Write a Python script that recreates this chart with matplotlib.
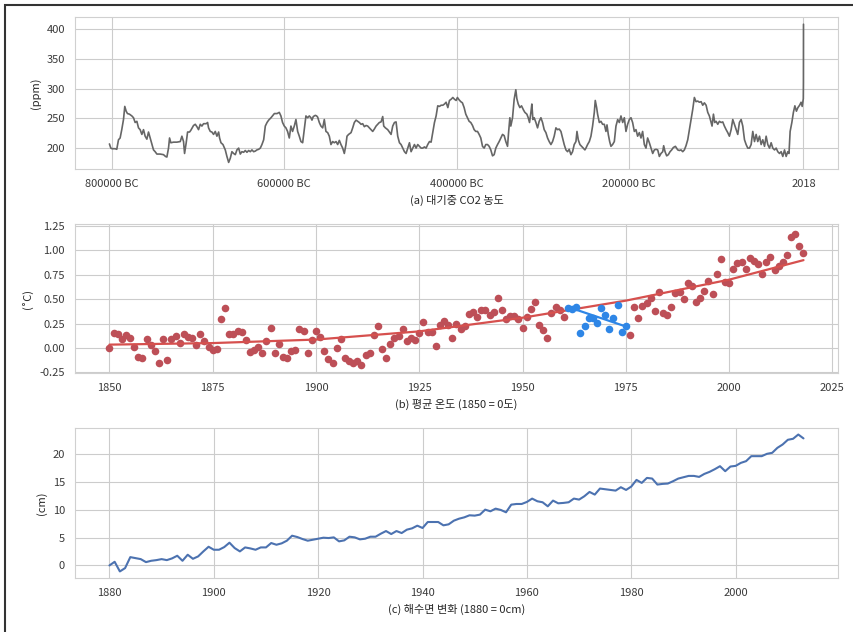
import matplotlib
matplotlib.use("Agg")
import matplotlib.pyplot as plt
import numpy as np
import seaborn as sns
from matplotlib.patches import Rectangle

sns.set_style("whitegrid")
plt.rcParams['font.family'] = ['Noto Sans CJK KR', 'DejaVu Sans']
plt.rcParams['axes.unicode_minus'] = False

# ---- (a) ice core CO2, thousands of years before present ----
co2_kyr = [
    804.6, 803.0, 801.5, 798.0, 796.1, 794.1, 792.2, 790.3, 788.3, 786.8,
    785.2, 783.7, 781.4, 778.6, 776.7, 774.8, 772.8, 770.9, 769.0, 767.0,
    765.1, 763.2, 761.2, 759.3, 757.4, 755.4, 753.5, 751.6, 749.6, 745.8,
    741.9, 739.6, 738.0, 736.1, 734.9, 733.4, 730.3, 726.4, 722.5, 720.6,
    718.7, 717.5, 715.6, 714.0, 711.7, 710.2, 707.1, 705.1, 703.2, 701.3,
    699.3, 697.4, 695.5, 692.4, 690.8, 689.7, 687.7, 685.8, 683.9, 681.9,
    680.0, 678.0, 676.9, 675.3, 673.0, 670.3, 668.4, 666.4, 664.5, 662.6,
    660.6, 658.7, 656.8, 654.8, 652.9, 651.0, 649.0, 647.1, 645.2, 643.2,
    641.3, 639.4, 637.4, 635.5, 633.6, 631.6, 629.7, 627.8, 625.8, 623.9,
    621.9, 620.0, 617.3, 615.0, 613.4, 610.3,
    607.7, 605.8, 603.9, 601.9, 600.0, 598.1, 596.1, 594.2, 592.3, 590.3,
    588.4, 586.4, 584.5, 582.6, 580.6, 578.7, 576.8, 574.8, 572.9, 571.0,
    569.8, 568.3, 565.9, 564.4, 563.2, 561.3, 559.4, 557.4, 555.5, 553.6,
    551.6, 549.7, 547.8, 545.8, 543.9, 541.9, 540.0, 538.1, 536.2, 534.2,
    532.3, 530.4, 529.2, 527.3, 524.5, 522.6, 520.7, 518.7, 516.8, 514.9,
    512.9, 511.0, 509.1, 507.1, 505.2, 503.3, 501.3, 499.4, 497.5, 495.5,
    493.6, 491.7, 489.7, 487.8, 486.6, 484.7, 482.0, 480.0, 478.1, 476.2,
    474.2, 472.3, 470.4, 468.4, 466.5, 464.6, 462.6, 460.7, 458.8, 456.8,
    454.9, 453.0, 451.0, 449.1, 447.2, 445.2, 443.3, 441.4, 439.4, 437.5,
    435.6, 433.6, 431.7, 429.8, 427.8, 425.9, 424.0, 422.0, 420.1, 418.1,
    416.2, 414.3, 412.3, 410.4, 408.5, 406.5, 404.6, 402.7,
    401.2, 399.2, 397.3, 395.4, 393.4, 391.5, 389.6, 387.6, 385.7, 383.7,
    381.8, 379.9, 377.9, 376.0, 374.1, 372.1, 370.2, 368.3, 366.3, 364.4,
    362.5, 360.5, 358.6, 356.7, 354.7, 352.8, 350.9, 348.9, 347.0, 345.1,
    343.1, 341.9, 340.4, 339.3, 337.3, 335.4, 333.5, 332.3, 330.7, 328.8,
    326.9, 324.6, 323.0, 320.7, 319.1, 317.6, 316.0, 314.9, 313.7, 312.2,
    310.2, 308.3, 306.4, 304.4, 302.5, 300.6, 298.6, 296.7, 294.8, 292.8,
    290.9, 289.0, 287.0, 285.1, 283.2, 281.2, 279.3, 277.4, 275.4, 273.5,
    271.6, 269.6, 267.7, 265.8, 263.8, 262.6, 261.1, 259.2, 257.2, 255.3,
    253.4, 252.2, 250.3, 248.3, 246.4, 244.5, 242.5, 241.4, 239.8, 238.7,
    236.7, 234.8, 232.9, 230.9, 229.0, 227.8, 226.3, 224.7, 223.2, 221.3,
    219.3, 217.4, 215.4, 213.5, 211.6, 209.6, 207.7,
    205.8, 203.9, 201.9, 200.0, 198.1, 196.1, 194.2, 192.3, 190.3, 188.4,
    186.5, 184.5, 182.6, 180.7, 178.7, 176.8, 174.8, 172.9, 171.0, 169.0,
    167.1, 165.2, 163.2, 162.1, 160.5, 158.6, 156.7, 154.7, 152.8, 150.9,
    148.5, 145.8, 143.9, 142.0, 140.0, 138.1, 136.2, 134.2, 132.3, 130.4,
    128.4, 126.5, 124.6, 122.6, 120.7, 118.7, 116.8, 114.9, 112.9, 111.0,
    109.1, 107.1, 106.0, 104.4, 102.9, 101.3, 99.4, 97.5, 95.5, 93.6,
    91.7, 89.7, 87.8, 85.9, 83.9, 82.0, 80.1, 78.1, 76.2, 74.3,
    72.3, 70.4, 68.4, 66.5, 64.6, 62.6, 60.7, 58.8, 56.8, 54.9,
    53.0, 51.0, 49.1, 47.2, 45.2, 43.3, 41.4, 39.4, 37.5, 35.6,
    33.6, 31.7, 29.8, 27.8, 25.9, 24.0, 22.0, 20.1, 18.2, 16.8,
    15.5, 13.5, 11.7, 10.0, 8.2, 6.5, 4.5, 2.8, 1.5, 0.5,
    0.218, 0.068, 0.018, 0.0,
]
co2_ppm = [
    207, 200, 199, 199, 198, 214, 217, 231, 248, 270,
    262, 258, 257, 254, 251, 243, 245, 234, 231, 223,
    231, 220, 215, 227, 217, 206, 197, 194, 190, 190,
    189, 186, 185, 200, 217, 209, 210, 210, 211, 220,
    211, 191, 209, 227, 227, 230, 238, 240, 236, 231,
    240, 237, 241, 241, 243, 234, 228, 227, 223, 228,
    220, 227, 217, 209, 206, 197, 186, 176, 183, 194,
    191, 189, 197, 200, 190, 194, 193, 196, 193, 196,
    194, 197, 194, 195, 197, 198, 200, 206, 214, 237,
    243, 247, 251, 255, 258, 258,
    260, 254, 243, 237, 234, 228, 217, 237, 228, 237,
    248, 228, 220, 211, 209, 231, 254, 251, 254, 251,
    247, 253, 255, 254, 252, 243, 237, 234, 248, 228,
    226, 220, 206, 211, 209, 211, 206, 213, 206, 200,
    191, 206, 220, 223, 226, 234, 243, 247, 245, 243,
    240, 241, 236, 238, 237, 234, 231, 228, 232, 237,
    240, 243, 244, 253, 237, 234, 231, 227, 223, 237,
    243, 244, 220, 209, 206, 200, 194, 191, 200, 209,
    194, 200, 206, 200, 206, 203, 200, 200, 202, 200,
    206, 211, 210, 226, 243, 254, 271, 270, 272, 272,
    274, 277, 268, 280, 282, 285, 282, 280,
    285, 281, 278, 276, 268, 257, 251, 245, 243, 238,
    231, 228, 228, 223, 217, 203, 200, 206, 206, 203,
    197, 187, 189, 200, 206, 211, 217, 223, 221, 211,
    203, 226, 251, 237, 251, 282, 298, 283, 274, 268,
    271, 264, 260, 257, 251, 243, 260, 274, 248, 251,
    243, 234, 245, 251, 243, 231, 226, 217, 211, 206,
    211, 220, 234, 231, 232, 228, 217, 206, 197, 194,
    198, 189, 194, 206, 211, 228, 214, 206, 203, 200,
    197, 200, 206, 211, 220, 237, 260, 280, 268, 257,
    243, 245, 240, 240, 228, 239, 223, 211, 203, 206,
    211, 237, 248, 243, 254, 243, 251,
    228, 240, 248, 251, 243, 228, 231, 220, 226, 217,
    228, 206, 200, 217, 209, 200, 191, 197, 198, 197,
    186, 191, 194, 204, 194, 187, 189, 194, 197, 201,
    203, 197, 196, 197, 194, 197, 204, 214, 231, 248,
    265, 285, 278, 279, 277, 278, 272, 276, 272, 260,
    254, 243, 237, 257, 243, 245, 240, 245, 243, 244,
    237, 231, 226, 220, 231, 248, 240, 231, 223, 243,
    248, 237, 214, 206, 200, 200, 206, 228, 211, 223,
    211, 220, 206, 214, 203, 220, 206, 200, 209, 200,
    197, 200, 194, 191, 194, 186, 197, 186, 194, 191,
    228, 243, 260, 271, 262, 268, 272, 277, 270, 280,
    283, 311, 369, 408,
]
co2_ticks = [-800000, -600000, -400000, -200000, 2018]
co2_ticklabels = ['800000 BC', '600000 BC', '400000 BC', '200000 BC', '2018']

# ---- (b) temperature anomaly, 1850 = 0 ----
temp_years = list(range(1850, 2019))
temp_vals = [
    0.00, 0.15, 0.14, 0.09, 0.13, 0.10, 0.01, -0.09, -0.10, 0.09,   # 1850s
    0.03, -0.03, -0.15, 0.09, -0.12, 0.09, 0.12, 0.05, 0.14, 0.11,  # 1860s
    0.10, 0.03, 0.14, 0.07, 0.01, -0.02, -0.01, 0.30, 0.41, 0.14,   # 1870s
    0.14, 0.17, 0.16, 0.08, -0.04, -0.02, 0.01, -0.05, 0.07, 0.20,  # 1880s
    -0.05, 0.04, -0.09, -0.10, -0.03, -0.02, 0.19, 0.17, -0.05, 0.08,  # 1890s
    0.17, 0.11, -0.03, -0.11, -0.15, 0.00, 0.09, -0.10, -0.13, -0.15,  # 1900s
    -0.13, -0.17, -0.07, -0.05, 0.13, 0.23, -0.01, -0.10, 0.04, 0.10,  # 1910s
    0.12, 0.19, 0.07, 0.10, 0.08, 0.15, 0.27, 0.16, 0.16, 0.02,     # 1920s
    0.24, 0.28, 0.24, 0.10, 0.25, 0.19, 0.22, 0.35, 0.37, 0.32,     # 1930s
    0.39, 0.39, 0.34, 0.37, 0.51, 0.39, 0.30, 0.33, 0.33, 0.30,     # 1940s
    0.20, 0.32, 0.40, 0.47, 0.24, 0.18, 0.10, 0.36, 0.42, 0.39,     # 1950s
    0.32, 0.41, 0.40, 0.42, 0.15, 0.23, 0.31, 0.31, 0.26, 0.41,     # 1960s
    0.34, 0.19, 0.31, 0.44, 0.16, 0.23, 0.13, 0.42, 0.31, 0.43,     # 1970s
    0.46, 0.51, 0.38, 0.57, 0.36, 0.34, 0.42, 0.56, 0.57, 0.50,     # 1980s
    0.67, 0.63, 0.47, 0.51, 0.58, 0.69, 0.55, 0.76, 0.91, 0.68,     # 1990s
    0.67, 0.81, 0.87, 0.88, 0.81, 0.92, 0.89, 0.86, 0.76, 0.88,     # 2000s
    0.93, 0.80, 0.84, 0.88, 0.95, 1.14, 1.17, 1.05, 0.97,           # 2010s
]
hiatus_start, hiatus_end = 1961, 1975
# trend lines, values
trend_years = [1850, 1875, 1900, 1925, 1950, 1975, 2000, 2018]
trend_vals = [0.034, 0.05, 0.086, 0.17, 0.31, 0.485, 0.70, 0.90]
hiatus_trend = [0.42, 0.22]

# ---- (c) sea level change, 1880 = 0cm ----
sea_years = list(range(1880, 2014))
sea_cm = [
    0.0, 0.66, -1.08, -0.48, 1.5, 1.33, 1.14, 0.6, 0.84, 0.96,
    1.14, 0.96, 1.27, 1.75, 0.84, 1.93, 1.2, 1.63, 2.53, 3.37,
    2.83, 2.83, 3.31, 4.1, 3.13, 2.53, 3.25, 3.07, 2.83, 3.25,
    3.25, 4.04, 3.73, 3.98, 4.46, 5.36, 5.12, 4.76, 4.46, 4.64,
    4.82, 5.0, 4.94, 5.06, 4.34, 4.52, 5.18, 5.06, 4.7, 4.82,
    5.18, 5.18, 5.72, 6.2, 5.66, 6.2, 5.84, 6.45, 6.69, 7.17,
    6.75, 7.83, 7.83, 7.83, 7.23, 7.41, 8.07, 8.43, 8.67, 9.04,
    8.98, 9.16, 10.06, 9.76, 10.24, 10.0, 9.58, 10.96, 11.08, 11.08,
    11.45, 12.05, 11.57, 11.39, 10.66, 11.69, 11.2, 11.27, 11.39, 12.05,
    11.87, 12.47, 13.25, 12.77, 13.86, 13.73, 13.61, 13.49, 14.1, 13.61,
    14.22, 15.42, 14.88, 15.78, 15.66, 14.58, 14.7, 14.76, 15.18, 15.66,
    15.9, 16.14, 16.14, 15.96, 16.5, 16.87, 17.35, 17.89, 16.99, 17.83,
    17.95, 18.49, 18.8, 19.7, 19.7, 19.7, 20.12, 20.3, 21.2, 21.8,
    22.65, 22.83, 23.6, 22.9,
]

assert len(co2_kyr) == len(co2_ppm)
assert len(temp_years) == len(temp_vals)
assert len(sea_years) == len(sea_cm)

FS = 8
fig = plt.figure(figsize=(8.54, 6.32), dpi=100)

# (a)
ax1 = fig.add_axes([0.0875, 0.7321, 0.894, 0.2405])
co2_years = 2018 - np.array(co2_kyr) * 1000
ax1.plot(co2_years, co2_ppm, color='#666666', lw=1.2)
ax1.set_xticks(co2_ticks)
ax1.set_xticklabels(co2_ticklabels)
ax1.set_ylabel('(ppm)', fontsize=FS)
ax1.set_xlabel('(a) 대기중 CO2 농도', fontsize=FS)

# (b)
ax2 = fig.add_axes([0.0875, 0.4093, 0.894, 0.2362])
ty = np.array(temp_years)
tv = np.array(temp_vals)
blue = (ty >= hiatus_start) & (ty <= hiatus_end)
ax2.scatter(ty[~blue], tv[~blue], s=30, color='#bd4f57', lw=0, zorder=2)
ax2.plot(trend_years, trend_vals, color='#d6504e', lw=1.6, zorder=3)
ax2.scatter(ty[blue], tv[blue], s=30, color='#2e86e6', lw=0, zorder=4)
ax2.plot([hiatus_start, hiatus_end], hiatus_trend, color='#2e86e6', lw=1.6, zorder=5)
ax2.set_ylim(-0.26, 1.27)
ax2.set_yticks(np.arange(-0.25, 1.26, 0.25))
ax2.yaxis.set_major_formatter(matplotlib.ticker.FormatStrFormatter('%.2f'))
ax2.set_xticks(range(1850, 2026, 25))
ax2.set_ylabel('(˚C)', fontsize=FS)
ax2.set_xlabel('(b) 평균 온도 (1850 = 0도)', fontsize=FS)

# (c)
ax3 = fig.add_axes([0.0875, 0.0850, 0.894, 0.2383])
ax3.plot(sea_years, sea_cm, color='#4c72b0', lw=1.5)
ax3.set_ylabel('(cm)', fontsize=FS)
ax3.set_xlabel('(c) 해수면 변화 (1880 = 0cm)', fontsize=FS)

for ax in (ax1, ax2, ax3):
    ax.tick_params(labelsize=FS, colors='#3a3a3a')
    for sp in ax.spines.values():
        sp.set_color('#d0d0d0')

# dark frame around the figure (top and left edges visible)
fig.add_artist(Rectangle((5 / 854, -0.5), 2, 1.5 - 5 / 632, transform=fig.transFigure,
                         fill=False, edgecolor='#333333', lw=1.5))

fig.savefig('out.png', dpi=100)
